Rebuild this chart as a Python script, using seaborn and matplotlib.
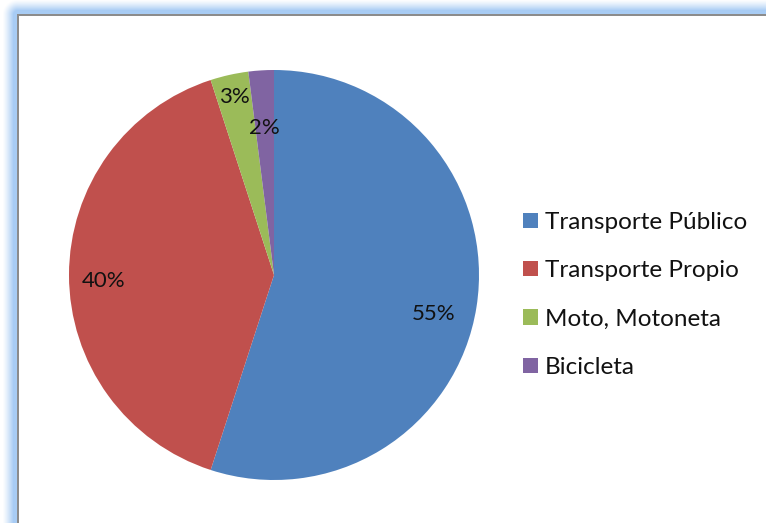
import numpy as np
import matplotlib
matplotlib.use("Agg")
import matplotlib.pyplot as plt
import seaborn as sns
from matplotlib.patches import Patch

categories = ["Transporte Público", "Transporte Propio", "Moto, Motoneta", "Bicicleta"]
values = [55, 40, 3, 2]
colors = ["#4F81BD", "#C0504D", "#9BBB59", "#8064A2"]
label_dist = [0.80, 0.83, 0.89, 0.72]
label_ang_shift = [-4.8, 2.0, 0.0, 0.0]

sns.set_theme(style="white")
plt.rcParams['font.family'] = ['Lato', 'DejaVu Sans']

W, H = 766, 523
fig = plt.figure(figsize=(W / 100, H / 100), dpi=100)

# background with blue glow frame
bg = fig.add_axes([0, 0, 1, 1])
yy, xx = np.mgrid[0:H, 0:W].astype(float)
fx, fy = 17.0, 14.0
dx = np.clip(fx - xx, 0, None)
dy = np.clip(fy - yy, 0, None)
d = np.sqrt(dx ** 2 + dy ** 2)
img = np.ones((H, W, 3))
glow = np.array([168, 204, 244]) / 255.0
t = np.clip((d - 4) / 11.0, 0, 1)
a = (1 - t) ** 1.3
a[d <= 0] = 0
for c in range(3):
    img[..., c] = img[..., c] * (1 - a) + glow[c] * a
border = (d <= 0) & ((xx < fx + 2) | (yy < fy + 2))
img[border] = np.array([140, 140, 140]) / 255.0
bg.imshow(img, extent=[0, W, H, 0], aspect='auto', zorder=0, interpolation='nearest')
bg.set_axis_off()

# pie
cx, cy, R = 274, 275, 205
ax = fig.add_axes([(cx - R) / W, (H - cy - R) / H, 2 * R / W, 2 * R / H])
wedges, _ = ax.pie(values, colors=colors, startangle=90, counterclock=False,
                   radius=1.0, wedgeprops=dict(linewidth=0))
ax.set_xlim(-1, 1)
ax.set_ylim(-1, 1)
ax.set_aspect('auto')
for w, v, rd, sh in zip(wedges, values, label_dist, label_ang_shift):
    ang = np.deg2rad((w.theta1 + w.theta2) / 2 + sh)
    ax.text(rd * np.cos(ang), rd * np.sin(ang), f"{v}%", ha='center', va='center',
            fontsize=16, color='#111111')

handles = [Patch(facecolor=c, edgecolor='none') for c in colors]
fig.legend(handles, categories, loc='center left', bbox_to_anchor=(523 / W, 1 - 295 / H),
           frameon=False, fontsize=17.5, handlelength=0.6, handleheight=0.6,
           handletextpad=0.3, labelspacing=1.13, borderaxespad=0, borderpad=0,
           labelcolor='#111111')

fig.savefig("out.png", dpi=100)
